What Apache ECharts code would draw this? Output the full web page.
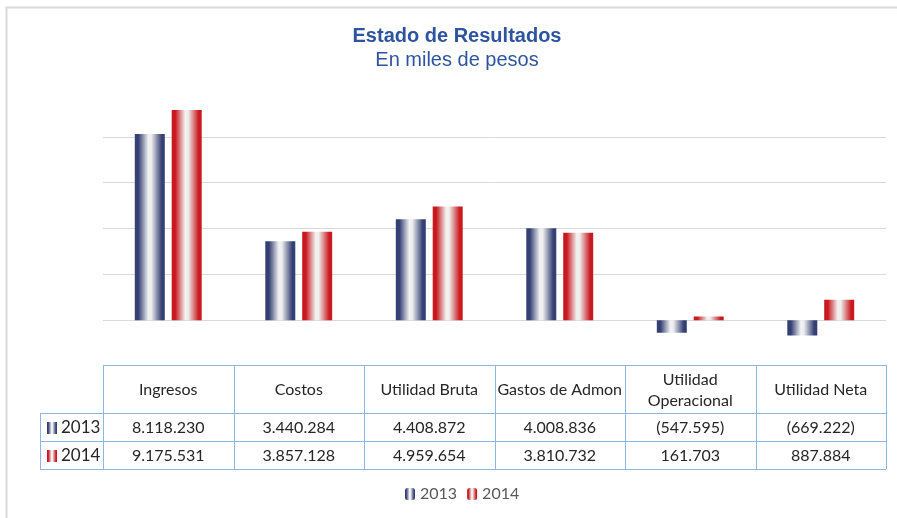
<!DOCTYPE html>
<html>
<head>
<meta charset="utf-8">
<script src="https://cdn.jsdelivr.net/npm/echarts@6/dist/echarts.min.js"></script>
<style>
html,body{margin:0;padding:0;background:#fff;}
#chart{width:897px;height:518px;}
</style>
</head>
<body>
<div id="chart"></div>
<script>
// datos (miles de pesos)
var categorias = ['Ingresos', 'Costos', 'Utilidad Bruta', 'Gastos de Admon', 'Utilidad\nOperacional', 'Utilidad Neta'];
var anios = ['2013', '2014'];
var valores2013 = [8118230, 3440284, 4408872, 4008836, -547595, -669222];
var valores2014 = [9175531, 3857128, 4959654, 3810732, 161703, 887884];

var chart = echarts.init(document.getElementById('chart'));

var gridLeft = 103, gridRight = 11, gridTop = 91, gridBottom = 152;
var fontTabla = 'Lato, "Open Sans", sans-serif';

function degradado(borde) {
	return new echarts.graphic.LinearGradient(0, 0, 1, 0, [
		{offset: 0, color: borde},
		{offset: 0.12, color: borde},
		{offset: 0.45, color: '#f2f2f2'},
		{offset: 0.55, color: '#eeeeee'},
		{offset: 0.9, color: borde},
		{offset: 1, color: borde}
	]);
}
var colorAzul = '#343f73', colorRojo = '#c9191f';

// formato 8.118.230 y negativos entre paréntesis
function formato(v) {
	var s = Math.abs(v).toString().replace(/\B(?=(\d{3})+(?!\d))/g, '.');
	return v < 0 ? '(' + s + ')' : s;
}

var option = {
	animation: false,
	title: {
		text: 'Estado de Resultados',
		subtext: 'En miles de pesos',
		left: 452,
		textAlign: 'center',
		top: 21,
		itemGap: 4,
		textStyle: {color: '#2e54a0', fontSize: 20, fontWeight: 'bold', fontFamily: 'Arial, "Liberation Sans"'},
		subtextStyle: {color: '#2e54a0', fontSize: 20, fontFamily: 'Arial, "Liberation Sans"'}
	},
	legend: {
		bottom: 11,
		left: 400,
		itemWidth: 10,
		itemHeight: 12,
		itemGap: 10,
		textStyle: {color: '#595959', fontSize: 16, fontFamily: fontTabla},
		data: anios
	},
	grid: {left: gridLeft, right: gridRight, top: gridTop, bottom: gridBottom},
	xAxis: {
		type: 'category',
		data: categorias,
		axisLine: {show: false},
		axisTick: {show: false},
		axisLabel: {show: false}
	},
	yAxis: {
		type: 'value',
		min: -2000000,
		max: 10000000,
		interval: 2000000,
		axisLabel: {show: false},
		axisLine: {show: false},
		axisTick: {show: false},
		splitLine: {
			show: true,
			showMinLine: false,
			showMaxLine: false,
			lineStyle: {color: '#d9d9d9', width: 1}
		}
	},
	series: [
		{
			name: '2013',
			type: 'bar',
			barWidth: 30,
			barGap: '23%',
			itemStyle: {color: degradado(colorAzul)},
			data: valores2013
		},
		{
			name: '2014',
			type: 'bar',
			barWidth: 30,
			itemStyle: {color: degradado(colorRojo)},
			data: valores2014
		}
	]
};
chart.setOption(option);

// tabla de datos debajo del gráfico
function dibujarTabla() {
	var ancho = (897 - gridLeft - gridRight) / categorias.length;
	var yCab = 365, yF1 = 413, yF2 = 441, yFin = 469;
	var xIni = 40, xFin = gridLeft + ancho * categorias.length;
	var borde = {stroke: '#8fb6e0', lineWidth: 1};
	var els = [];

	// bordes del gráfico
	els.push({type: 'polyline', shape: {points: [[6.5, 518], [6.5, 7.5], [897, 7.5]]}, style: {stroke: '#d9d9d9', lineWidth: 2, fill: null}, silent: true});

	// líneas horizontales
	els.push({type: 'line', shape: {x1: gridLeft, y1: yCab + 0.5, x2: xFin, y2: yCab + 0.5}, style: borde});
	[yF1, yF2, yFin].forEach(function (y) {
		els.push({type: 'line', shape: {x1: xIni, y1: y + 0.5, x2: xFin, y2: y + 0.5}, style: borde});
	});
	// líneas verticales
	els.push({type: 'line', shape: {x1: xIni + 0.5, y1: yF1, x2: xIni + 0.5, y2: yFin}, style: borde});
	for (var i = 0; i <= categorias.length; i++) {
		var x = Math.round(gridLeft + ancho * i) + 0.5;
		els.push({type: 'line', shape: {x1: x, y1: yCab, x2: x, y2: yFin}, style: borde});
	}

	var filas = [valores2013, valores2014];
	for (var c = 0; c < categorias.length; c++) {
		var cx = gridLeft + ancho * (c + 0.5);
		els.push({type: 'text', x: cx, y: (yCab + yF1) / 2 + 1, style: {
			text: categorias[c], align: 'center', verticalAlign: 'middle', lineHeight: 21,
			fill: '#262626', font: '16px ' + fontTabla
		}});
		for (var f = 0; f < filas.length; f++) {
			var y0 = f === 0 ? yF1 : yF2;
			els.push({type: 'text', x: cx, y: y0 + 15, style: {
				text: formato(filas[f][c]), align: 'center', verticalAlign: 'middle',
				fill: '#262626', font: '16px ' + fontTabla
			}});
		}
	}
	// claves de serie en la tabla
	[[yF1, colorAzul, anios[0]], [yF2, colorRojo, anios[1]]].forEach(function (r) {
		els.push({type: 'rect', shape: {x: 47, y: r[0] + 9, width: 10, height: 12}, style: {fill: degradado(r[1])}});
		els.push({type: 'text', x: 61, y: r[0] + 15, style: {
			text: r[2], align: 'left', verticalAlign: 'middle', fill: '#262626', font: '17px ' + fontTabla
		}});
	});

	chart.setOption({graphic: {elements: els}});
}
dibujarTabla();

window.addEventListener('resize', function () {
	chart.resize();
});
</script>
</body>
</html>
